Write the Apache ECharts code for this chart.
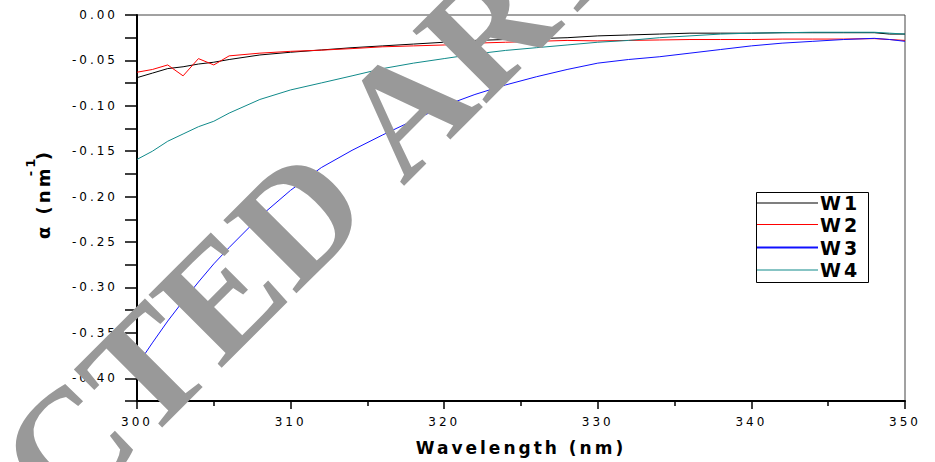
<!DOCTYPE html>
<html>
<head>
<meta charset="utf-8">
<script src="https://cdn.jsdelivr.net/npm/echarts@6/dist/echarts.min.js"></script>
<style>
  html, body { margin: 0; padding: 0; background: #fff; }
  #wrap { position: relative; width: 935px; height: 462px; }
  #c { position: absolute; left: 0; top: 0; width: 935px; height: 462px; }
  #w { position: absolute; left: 0; top: 0; width: 935px; height: 462px; pointer-events: none; }
  #c text { letter-spacing: 3px; }
</style>
</head>
<body>
<div id="wrap"><div id="c"></div><div id="w"></div></div>
<script>
const wavelength = [300,301,302,303,304,305,306,308,310,312,314,316,318,320,322,324,326,328,330,332,334,336,338,340,342,344,346,348,349,350];
const W1 = [-0.069,-0.064,-0.059,-0.057,-0.054,-0.052,-0.049,-0.044,-0.041,-0.0385,-0.036,-0.034,-0.032,-0.030,-0.028,-0.027,-0.026,-0.025,-0.023,-0.022,-0.021,-0.020,-0.020,-0.020,-0.0195,-0.0195,-0.0195,-0.0195,-0.021,-0.021];
const W2 = [-0.063,-0.060,-0.055,-0.067,-0.048,-0.055,-0.045,-0.042,-0.040,-0.0387,-0.037,-0.035,-0.034,-0.033,-0.031,-0.030,-0.029,-0.028,-0.0285,-0.028,-0.0275,-0.027,-0.027,-0.027,-0.0265,-0.0265,-0.0265,-0.026,-0.027,-0.028];
const W3 = [-0.386,-0.361,-0.337,-0.315,-0.294,-0.274,-0.256,-0.222,-0.193,-0.168,-0.149,-0.132,-0.116,-0.100,-0.0875,-0.077,-0.068,-0.060,-0.053,-0.049,-0.046,-0.042,-0.038,-0.034,-0.031,-0.029,-0.027,-0.0257,-0.027,-0.029];
const W4 = [-0.159,-0.150,-0.139,-0.131,-0.123,-0.117,-0.108,-0.093,-0.0825,-0.0748,-0.067,-0.059,-0.053,-0.048,-0.043,-0.039,-0.036,-0.033,-0.030,-0.028,-0.025,-0.023,-0.021,-0.020,-0.0195,-0.019,-0.019,-0.019,-0.020,-0.021];
const seriesNames = ['W1','W2','W3','W4'];
const seriesValues = [W1, W2, W3, W4];
const seriesColors = ['#000000','#ff0000','#1010ff','#108a8a'];
const xTitle = 'Wavelength (nm)';
const watermark = 'RETRACTED ARTICLE';

const chart = echarts.init(document.getElementById('c'), null, {renderer: 'svg'});
const sansFont = 'DejaVu Sans';

// legend drawn as graphic elements (box, line samples, labels)
const legendBox = { x: 756, y: 192, w: 112, h: 90 };
const legendRows = [203, 224.5, 247.5, 270];
const legendGraphics = [{
  type: 'rect', z: 60,
  shape: { x: legendBox.x + 0.5, y: legendBox.y + 0.5, width: legendBox.w, height: legendBox.h },
  style: { fill: '#fff', stroke: '#000', lineWidth: 1 }
}];
seriesNames.forEach((n, i) => {
  legendGraphics.push({
    type: 'line', z: 61,
    shape: { x1: legendBox.x + 1, y1: legendRows[i], x2: legendBox.x + 62, y2: legendRows[i] },
    style: { stroke: seriesColors[i], lineWidth: i === 2 ? 1.8 : 1.2 }
  });
  legendGraphics.push({
    type: 'text', z: 61, x: legendBox.x + 64, y: legendRows[i],
    style: { text: n, fontFamily: sansFont, fontWeight: 'bold', fontSize: 19, fill: '#000',
             align: 'left', verticalAlign: 'middle' }
  });
});

const option = {
  animation: false,
  backgroundColor: '#ffffff',
  grid: { left: 137, right: 30, top: 15, bottom: 61, show: true, borderColor: '#444', borderWidth: 1 },
  xAxis: {
    type: 'value', min: 300, max: 350, interval: 10,
    name: xTitle, nameLocation: 'middle', nameGap: 38,
    nameTextStyle: { fontFamily: sansFont, fontWeight: 'bold', fontSize: 17, color: '#000' },
    axisLine: { show: true, onZero: false, lineStyle: { color: '#000', width: 2 } },
    axisTick: { show: true, inside: false, length: 8, lineStyle: { color: '#000', width: 1.5 } },
    minorTick: { show: true, splitNumber: 2, length: 5, lineStyle: { color: '#000', width: 1.5 } },
    splitLine: { show: false },
    axisLabel: { margin: 15, fontFamily: sansFont, fontSize: 12, color: '#000' }
  },
  yAxis: {
    type: 'value', min: -0.425, max: 0, interval: 0.025,
    axisLine: { show: true, onZero: false, lineStyle: { color: '#000', width: 2 } },
    axisTick: { show: true, inside: false, length: 12, lineStyle: { color: '#000', width: 1.5 } },
    splitLine: { show: false },
    axisLabel: {
      margin: 19, fontFamily: sansFont, fontSize: 12, color: '#000',
      formatter: function (v) {
        const k = Math.round(v * 1000);
        if (k % 50 !== 0) return '';
        return (k / 1000).toFixed(2);
      }
    }
  },
  series: seriesNames.map((n, i) => ({
    name: n, type: 'line', symbol: 'none', smooth: false,
    data: wavelength.map((w, j) => [w, seriesValues[i][j]]),
    lineStyle: { color: seriesColors[i], width: 1 },
    itemStyle: { color: seriesColors[i] }
  })),
  graphic: legendGraphics.concat([
    {
      type: 'text', x: 38, y: 191, rotation: Math.PI / 2, z: 50,
      style: {
        text: '{t|α (nm}{s|-1}{t|)}',
        align: 'center', verticalAlign: 'middle',
        rich: {
          t: { fontFamily: sansFont, fontWeight: 'bold', fontSize: 18, color: '#000', lineHeight: 28, verticalAlign: 'bottom' },
          s: { fontFamily: sansFont, fontWeight: 'bold', fontSize: 13, color: '#000', lineHeight: 28, verticalAlign: 'top' }
        }
      }
    }
  ])
};
chart.setOption(option);

// watermark overlay (separate layer so no letter spacing is applied)
const wm = echarts.init(document.getElementById('w'), null, {renderer: 'canvas'});
wm.setOption({
  animation: false,
  graphic: [{
    type: 'text', x: 262, y: 270, rotation: Math.PI / 4, z: 200,
    style: {
      text: watermark, align: 'center', verticalAlign: 'middle',
      fontFamily: 'Liberation Serif', fontWeight: 'bold', fontSize: 158, fill: '#999999'
    }
  }]
});
</script>
</body>
</html>
